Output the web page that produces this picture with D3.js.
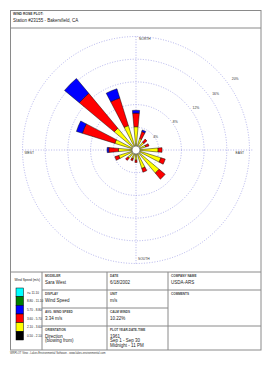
<!DOCTYPE html>
<html><head><meta charset="utf-8">
<script src="https://cdn.jsdelivr.net/npm/d3@7"></script>
<style>html,body{margin:0;padding:0;background:#fff;}svg{display:block;font-family:"Liberation Sans",Arial,sans-serif;}</style>
</head><body>
<script>
const directions = ["N","NNE","NE","ENE","E","ESE","SE","SSE","S","SSW","SW","WSW","W","WNW","NW","NNW"];
const speedClasses = ["0.50 - 2.10","2.10 - 3.60","3.60 - 5.70","5.70 - 8.80","8.80 - 11.10",">= 11.10"];
const classColors = ["#000000","#ffff00","#ff0000","#0000ff","#008000","#00ffff"];
// percent frequency per direction for each speed class
const class1 = [0.3,0.3,0.3,0.3,0.3,0.3,0.3,0.3,0.3,0.3,0.3,0.3,0.3,0.3,0.3,0.3];
const class2 = [3.8,1.8,1.5,1.5,3.6,4.3,5.0,3.1,1.5,1.3,1.6,2.9,2.8,3.6,4.7,4.2];
const class3 = [2.4,1.3,0.7,0.6,0.7,0.8,1.4,0.7,0.4,0.4,0.5,0.7,1.7,6.0,8.0,5.1];
const class4 = [0.5,0.3,0,0,0,0,0,0,0,0,0,0,0.3,1.1,3.4,1.7];
const class5 = [0,0,0,0,0,0,0,0,0,0,0,0,0,0,0,0];
const class6 = [0,0,0,0,0,0,0,0,0,0,0,0,0,0,0,0];
const ringTicks = [4,8,12,16,20];
const ringLabels = ["4%","8%","12%","16%","20%"];
const axisLabels = ["NORTH","EAST","SOUTH","WEST"];
const legendTitle = "Wind Speed (m/s)";
const headerTitle = "WIND ROSE PLOT:";
const headerStation = "Station #23155 - Bakersfield, CA";
const cells = [
  {col:1,row:0,label:"MODELER",value:["Sara West"]},
  {col:2,row:0,label:"DATE",value:["6/18/2002"]},
  {col:1,row:1,label:"DISPLAY",value:["Wind Speed"]},
  {col:2,row:1,label:"UNIT",value:["m/s"]},
  {col:1,row:2,label:"AVG. WIND SPEED",value:["3.34 m/s"]},
  {col:2,row:2,label:"CALM WINDS",value:["10.22%"]},
  {col:1,row:3,label:"ORIENTATION",value:["Direction","(blowing from)"]},
  {col:2,row:3,label:"PLOT YEAR-DATE-TIME",value:["1961","Sep 1 - Sep 30","Midnight - 11 PM"]}
];
const footer = "WRPLOT View - Lakes Environmental Software - www.lakes-environmental.com";

const W=273,H=365;
const svg=d3.select("body").append("svg").attr("width",W).attr("height",H);
const frame={x0:10.5,x1:261,y0:10.5,y1:350};
const gridColor="#a0a0e6";

svg.append("rect").attr("x",frame.x0).attr("y",frame.y0).attr("width",frame.x1-frame.x0).attr("height",frame.y1-frame.y0)
  .attr("fill","none").attr("stroke","#8a8a8a").attr("stroke-width",1);
svg.append("line").attr("x1",frame.x0).attr("x2",frame.x1).attr("y1",28).attr("y2",28).attr("stroke","#8a8a8a");
svg.append("text").attr("x",13).attr("y",15).attr("font-size",3.4).attr("font-weight","bold").attr("fill","#333").text(headerTitle);
svg.append("text").attr("x",13).attr("y",21.5).attr("font-size",4.5).attr("fill","#222").text(headerStation);

const cx=136, cy=150;
const r=d3.scaleLinear().domain([0,20]).range([0,113.5]);
const g=svg.append("g").attr("transform",`translate(${cx},${cy})`);
g.selectAll("circle.ring").data(ringTicks).join("circle").attr("class","ring")
  .attr("r",d=>r(d)).attr("fill","none").attr("stroke",gridColor).attr("stroke-width",0.8).attr("stroke-dasharray","1,1.6");
g.append("line").attr("x1",-r(20)).attr("x2",r(20)+4).attr("y1",0).attr("y2",0).attr("stroke",gridColor).attr("stroke-width",0.8).attr("stroke-dasharray","1,1.6");
g.append("line").attr("y1",-r(20)).attr("y2",r(20)).attr("x1",0).attr("x2",0).attr("stroke",gridColor).attr("stroke-width",0.8).attr("stroke-dasharray","1,1.6");
const la=54*Math.PI/180;
g.selectAll("text.rl").data(ringTicks).join("text").attr("class","rl")
  .attr("x",d=>(r(d)*1.07-3)*Math.sin(la)).attr("y",d=>-(r(d)*1.07-3)*Math.cos(la))
  .attr("font-size",3.4).attr("fill","#333").text((d,i)=>ringLabels[i]);
g.append("text").attr("x",3).attr("y",-r(20)+3).attr("font-size",3.3).attr("fill","#333").text(axisLabels[0]);
g.append("text").attr("x",r(20)-14).attr("y",4).attr("font-size",3.3).attr("fill","#333").text(axisLabels[1]);
g.append("text").attr("x",2).attr("y",r(20)-4).attr("font-size",3.3).attr("fill","#333").text(axisLabels[2]);
g.append("text").attr("x",-r(20)+2).attr("y",4).attr("font-size",3.3).attr("fill","#333").text(axisLabels[3]);

const series=[class1,class2,class3,class4,class5,class6];
const half=5.2*Math.PI/180;
const arc=d3.arc();
directions.forEach((dname,i)=>{
  const ang=i*22.5*Math.PI/180;
  let cum=0;
  series.forEach((s,k)=>{
    const v=s[i]; if(!v) return;
    const a0=cum, a1=cum+v; cum=a1;
    g.append("path").attr("d",arc({innerRadius:r(a0),outerRadius:r(a1),startAngle:ang-half,endAngle:ang+half}))
      .attr("fill",classColors[k]).attr("stroke","#000").attr("stroke-width",0.45);
  });
});
g.append("circle").attr("r",4).attr("fill","#fff").attr("stroke","#555").attr("stroke-width",0.6);

const ty=[272,290,308,326,350];
const tx=[frame.x0,42,107,168,frame.x1];
const lc="#8a8a8a";
svg.append("line").attr("x1",frame.x0).attr("x2",frame.x1).attr("y1",ty[0]).attr("y2",ty[0]).attr("stroke",lc);
[1,2,3].forEach(j=>svg.append("line").attr("x1",tx[j]).attr("x2",tx[j]).attr("y1",ty[0]).attr("y2",ty[4]).attr("stroke",lc));
[1,2,3].forEach(j=>svg.append("line").attr("x1",tx[1]).attr("x2",tx[3]).attr("y1",ty[j]).attr("y2",ty[j]).attr("stroke",lc));
svg.append("line").attr("x1",tx[3]).attr("x2",tx[4]).attr("y1",290).attr("y2",290).attr("stroke",lc);
svg.append("line").attr("x1",tx[3]).attr("x2",tx[4]).attr("y1",326).attr("y2",326).attr("stroke",lc);
const allCells=cells.concat([{col:3,row:0,label:"COMPANY NAME",value:["USDA-ARS"]},{col:3,row:1,label:"COMMENTS",value:[]}]);
allCells.forEach(c=>{
  const x=tx[c.col]+3, y=ty[c.row];
  svg.append("text").attr("x",x).attr("y",y+4.5).attr("font-size",3.1).attr("font-weight","bold").attr("fill","#444").text(c.label);
  c.value.forEach((v,k)=>svg.append("text").attr("x",x).attr("y",y+11.5+k*4.6).attr("font-size",4.5).attr("fill","#222").text(v));
});
svg.append("text").attr("x",14.5).attr("y",281).attr("font-size",3.2).attr("fill","#222").text(legendTitle);
const ly=d3.scaleBand().domain(d3.range(6)).range([288,340]).padding(0);
speedClasses.slice().reverse().forEach((lab,k)=>{
  const ci=5-k;
  svg.append("rect").attr("x",16).attr("y",ly(k)).attr("width",7.5).attr("height",ly.bandwidth())
    .attr("fill",classColors[ci]).attr("stroke","#000").attr("stroke-width",0.5);
  svg.append("text").attr("x",27).attr("y",ly(k)+ly.bandwidth()/2+1.2).attr("font-size",3.1).attr("fill","#222").text(lab);
});
svg.append("text").attr("x",10).attr("y",354).attr("font-size",2.7).attr("fill","#333").text(footer);
</script>
</body></html>
